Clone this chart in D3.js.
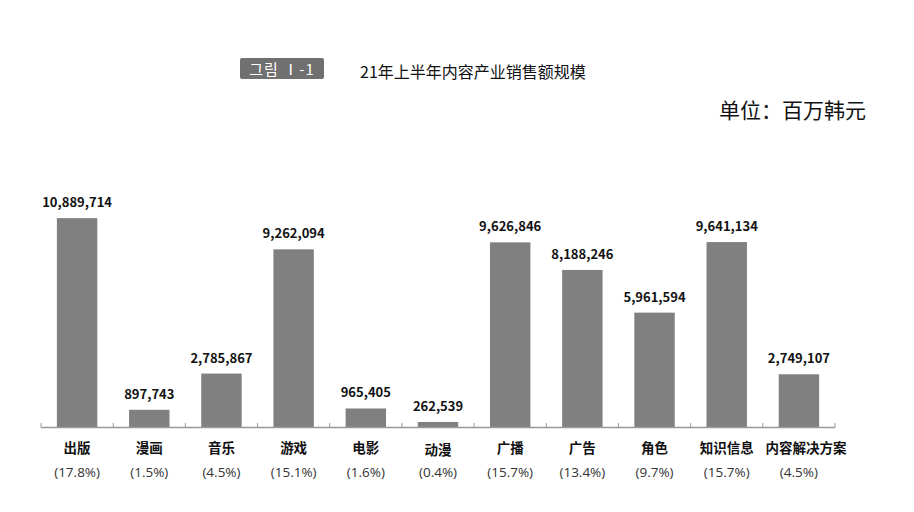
<!DOCTYPE html>
<html><head><meta charset="utf-8">
<script src="https://cdn.jsdelivr.net/npm/d3@7"></script>
<style>body{margin:0;background:#fff}svg{display:block}</style>
</head><body>
<script>
const categories = ["出版","漫画","音乐","游戏","电影","动漫","广播","广告","角色","知识信息","内容解决方案"];
const values = [10889714,897743,2785867,9262094,965405,262539,9626846,8188246,5961594,9641134,2749107];
const shares = ["(17.8%)","(1.5%)","(4.5%)","(15.1%)","(1.6%)","(0.4%)","(15.7%)","(13.4%)","(9.7%)","(15.7%)","(4.5%)"];
const badgeText = "그림 Ⅰ-1";
const titleText = "21年上半年内容产业销售额规模";
const unitText = "单位：百万韩元";

const W = 914, H = 512;
const svg = d3.select("body").append("svg").attr("width", W).attr("height", H);
const fontCJK = "'Noto Sans CJK SC','Noto Sans',sans-serif";

const x = d3.scaleBand().domain(categories).range([41, 835]).paddingInner(0.44).paddingOuter(0.22);
const y = d3.scaleLinear().domain([0, 11000000]).range([427, 427 - 211]);

// bars
svg.selectAll("rect.bar").data(values).enter().append("rect")
  .attr("class","bar")
  .attr("x", (d,i)=>x(categories[i]))
  .attr("width", x.bandwidth())
  .attr("y", d=>y(d))
  .attr("height", d=>y(0)-y(d))
  .attr("fill", "#808080");

// axis with ticks at band boundaries
const axisG = svg.append("g");
axisG.append("line").attr("x1",41).attr("x2",835).attr("y1",427.5).attr("y2",427.5)
  .attr("stroke","#999").attr("stroke-width",1.3);
const bounds = d3.range(categories.length+1).map(i=>41 + i*(794/categories.length));
axisG.selectAll("line.tick").data(bounds).enter().append("line")
  .attr("x1",d=>d).attr("x2",d=>d).attr("y1",423).attr("y2",427.5)
  .attr("stroke","#999").attr("stroke-width",1);

// value labels
const fmt = d3.format(",");
svg.selectAll("text.val").data(values).enter().append("text")
  .attr("x",(d,i)=>x(categories[i])+x.bandwidth()/2)
  .attr("y",d=>y(d)-11)
  .attr("text-anchor","middle")
  .attr("font-family","'Noto Sans CJK KR','Noto Sans',sans-serif")
  .attr("font-weight","bold").attr("font-size",13).attr("fill","#111")
  .text(d=>fmt(d));

// category labels
svg.selectAll("text.cat").data(categories).enter().append("text")
  .attr("x",d=>x(d)+x.bandwidth()/2 + (d==="内容解决方案"? 7:0))
  .attr("y",(d,i)=> d==="动漫"?455:453)
  .attr("text-anchor","middle")
  .attr("font-family",fontCJK).attr("font-weight","bold").attr("font-size",13.5).attr("fill","#111")
  .text(d=>d);

svg.selectAll("text.share").data(shares).enter().append("text")
  .attr("x",(d,i)=>x(categories[i])+x.bandwidth()/2)
  .attr("y",477)
  .attr("text-anchor","middle")
  .attr("font-family","'Open Sans','Noto Sans',sans-serif").attr("font-size",13.5).attr("fill","#333")
  .text(d=>d);

// badge
svg.append("rect").attr("x",240).attr("y",58).attr("width",84).attr("height",21).attr("rx",2).attr("fill","#707070");
svg.append("text").attr("x",282).attr("y",74.5).attr("text-anchor","middle")
  .attr("font-family","'Noto Sans CJK KR',sans-serif").attr("font-size",15).attr("fill","#fff")
  .attr("letter-spacing",1).text(badgeText);
svg.append("text").attr("x",360).attr("y",77.5)
  .attr("font-family",fontCJK).attr("font-size",16).attr("fill","#111").text(titleText);
svg.append("text").attr("x",866).attr("y",118).attr("text-anchor","end")
  .attr("font-family",fontCJK).attr("font-size",21).attr("fill","#111").text(unitText);
</script>
</body></html>
